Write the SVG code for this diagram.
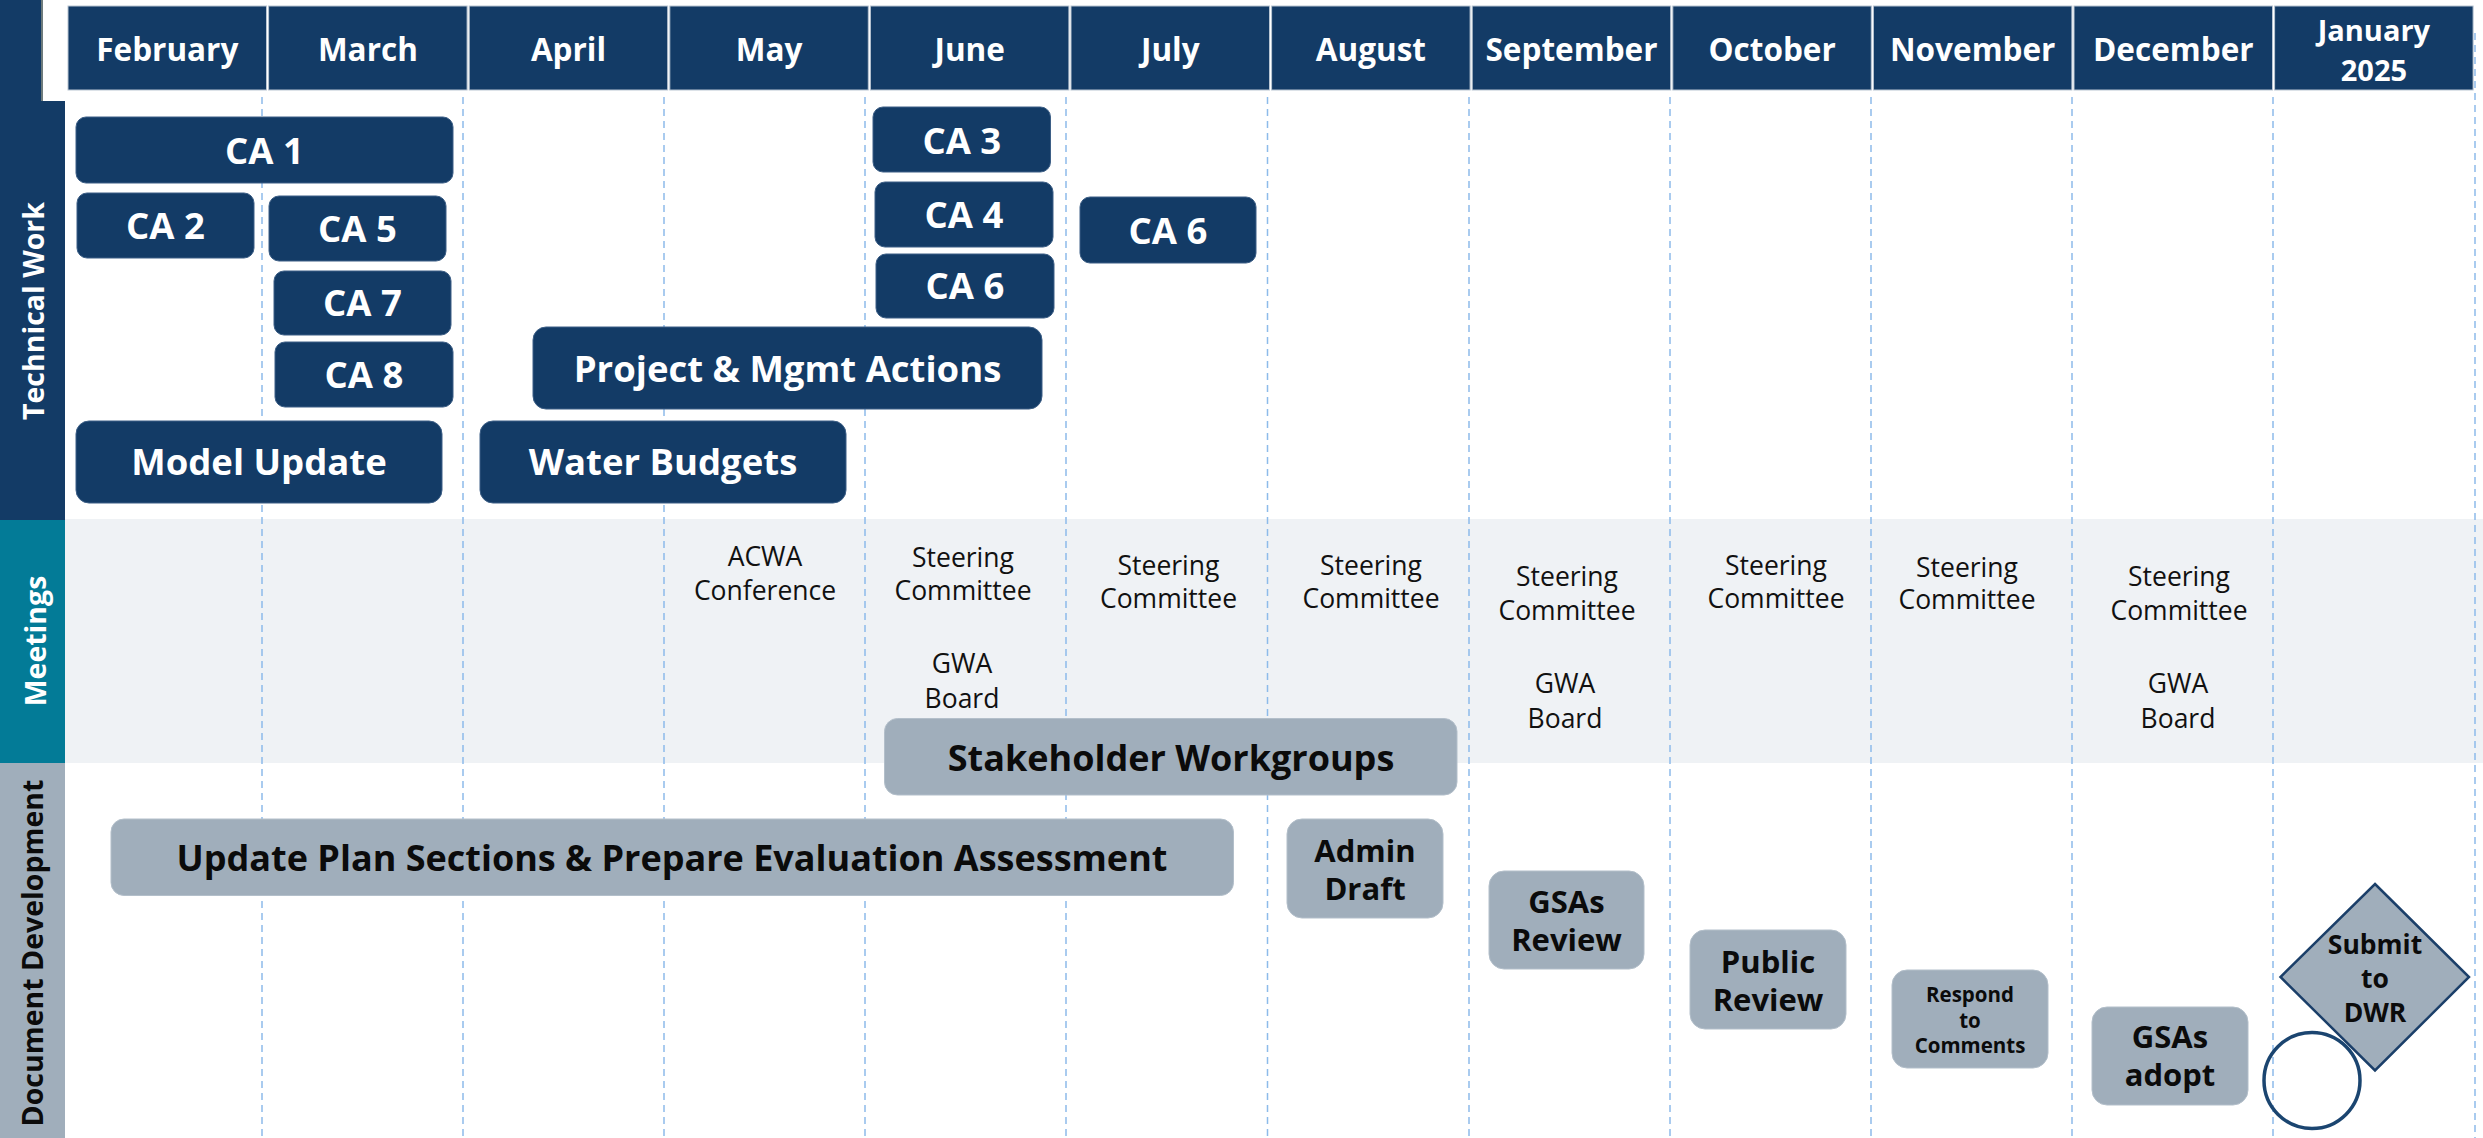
<svg xmlns="http://www.w3.org/2000/svg" width="2483" height="1138" viewBox="0 0 2483 1138">
<defs>
<style>
text{font-family:"Open Sans","Noto Sans","Liberation Sans",sans-serif;text-anchor:middle}
.hdr{fill:#133B66;stroke:#b9c5d2;stroke-width:1}
.ht{font-weight:700;font-size:31.5px;fill:#fff}
.nb{fill:#133B66;stroke:#3d5f86;stroke-width:1}
.nt{font-weight:700;font-size:36.5px;fill:#fff}
.gb{fill:#A0AEBB;stroke:#b3bfca;stroke-width:1}
.gt{font-weight:700;font-size:36px;fill:#0b0b0b}
.gs{font-weight:700;font-size:31px;fill:#0b0b0b}
.mt{font-size:26.5px;fill:#111}
.lane{font-weight:700;font-size:28.5px}
.grid line{stroke:#8DBBEA;stroke-width:1.5;stroke-dasharray:7 5}
</style>
</defs>
<rect width="2483" height="1138" fill="#fff"/>
<!-- lanes -->
<g id="lanes">
<rect x="0" y="0" width="41" height="101" fill="#133B66"/>
<line x1="42" y1="0" x2="42" y2="101" stroke="#6d7b7c" stroke-width="2"/>
<rect x="0" y="101" width="65" height="419" fill="#133B66"/>
<rect x="65" y="519" width="2418" height="244" fill="#EFF2F5"/>
<rect x="0" y="520" width="65" height="243" fill="#037B97"/>
<rect x="0" y="763" width="65" height="375" fill="#A0AEBB"/>
<text class="lane" transform="translate(44,311) rotate(-90)" fill="#fff">Technical Work</text>
<text class="lane" transform="translate(46,641) rotate(-90)" fill="#fff">Meetings</text>
<text class="lane" transform="translate(43,953) rotate(-90)" fill="#0b0b0b">Document Development</text>
</g>
<!-- grid -->
<g class="grid" id="grid">
<line x1="262" y1="97" x2="262" y2="1138"/>
<line x1="463" y1="97" x2="463" y2="1138"/>
<line x1="664" y1="97" x2="664" y2="1138"/>
<line x1="865" y1="97" x2="865" y2="1138"/>
<line x1="1066" y1="97" x2="1066" y2="1138"/>
<line x1="1267.5" y1="97" x2="1267.5" y2="1138"/>
<line x1="1469" y1="97" x2="1469" y2="1138"/>
<line x1="1670" y1="97" x2="1670" y2="1138"/>
<line x1="1871" y1="97" x2="1871" y2="1138"/>
<line x1="2072" y1="97" x2="2072" y2="1138"/>
<line x1="2273" y1="97" x2="2273" y2="1138"/>
<line x1="2475" y1="33" x2="2475" y2="1138"/>
</g>
<g id="connectors"/>
<!-- header -->
<g id="header">
<rect class="hdr" x="68" y="6" width="198.5" height="84"/>
<rect class="hdr" x="268.6" y="6" width="198.5" height="84"/>
<rect class="hdr" x="469.2" y="6" width="198.5" height="84"/>
<rect class="hdr" x="669.8" y="6" width="198.5" height="84"/>
<rect class="hdr" x="870.4" y="6" width="198.5" height="84"/>
<rect class="hdr" x="1071" y="6" width="198.5" height="84"/>
<rect class="hdr" x="1271.6" y="6" width="198.5" height="84"/>
<rect class="hdr" x="1472.2" y="6" width="198.5" height="84"/>
<rect class="hdr" x="1672.8" y="6" width="198.5" height="84"/>
<rect class="hdr" x="1873.4" y="6" width="198.5" height="84"/>
<rect class="hdr" x="2074" y="6" width="198.5" height="84"/>
<rect class="hdr" x="2274.6" y="6" width="198.5" height="84"/>
<text class="ht" x="167.3" y="60.5">February</text>
<text class="ht" x="367.9" y="60.5">March</text>
<text class="ht" x="568.5" y="60.5">April</text>
<text class="ht" x="769.1" y="60.5">May</text>
<text class="ht" x="969.7" y="60.5">June</text>
<text class="ht" x="1170.3" y="60.5">July</text>
<text class="ht" x="1370.9" y="60.5">August</text>
<text class="ht" x="1571.5" y="60.5">September</text>
<text class="ht" x="1772.1" y="60.5">October</text>
<text class="ht" x="1972.7" y="60.5">November</text>
<text class="ht" x="2173.3" y="60.5">December</text>
<text class="ht" style="font-size:29px" x="2373.9" y="41">January</text>
<text class="ht" style="font-size:29px" x="2373.9" y="81">2025</text>
</g>
<!-- technical work nodes -->
<g id="ca1"><rect class="nb" x="76" y="117" width="377" height="66" rx="10"/><text class="nt" x="264.5" y="163.5">CA 1</text></g>
<g id="ca2"><rect class="nb" x="77" y="193" width="177" height="65" rx="10"/><text class="nt" x="165.5" y="238.5">CA 2</text></g>
<g id="ca5"><rect class="nb" x="269" y="196" width="177" height="65" rx="10"/><text class="nt" x="357.5" y="241.5">CA 5</text></g>
<g id="ca7"><rect class="nb" x="274" y="271" width="177" height="64" rx="10"/><text class="nt" x="362.5" y="316">CA 7</text></g>
<g id="ca8"><rect class="nb" x="275" y="342" width="178" height="65" rx="10"/><text class="nt" x="364" y="388">CA 8</text></g>
<g id="ca3"><rect class="nb" x="873" y="107" width="177.5" height="65" rx="10"/><text class="nt" x="961.8" y="153.5">CA 3</text></g>
<g id="ca4"><rect class="nb" x="875" y="182" width="178" height="65" rx="10"/><text class="nt" x="964" y="227.5">CA 4</text></g>
<g id="ca6-june"><rect class="nb" x="876" y="254" width="178" height="64" rx="10"/><text class="nt" x="965" y="299">CA 6</text></g>
<g id="ca6-july"><rect class="nb" x="1080" y="197" width="176" height="66" rx="10"/><text class="nt" x="1168" y="243.5">CA 6</text></g>
<g id="project-mgmt"><rect class="nb" x="533" y="327" width="509" height="82" rx="13"/><text class="nt" x="787.5" y="381.5">Project &amp; Mgmt Actions</text></g>
<g id="model-update"><rect class="nb" x="76" y="421" width="366" height="82" rx="13"/><text class="nt" x="259" y="475">Model Update</text></g>
<g id="water-budgets"><rect class="nb" x="480" y="421" width="366" height="82" rx="13"/><text class="nt" x="663" y="475">Water Budgets</text></g>
<!-- meetings -->
<g id="acwa"><text class="mt" x="765" y="566">ACWA</text><text class="mt" x="765" y="600">Conference</text></g>
<g id="sc-june"><text class="mt" x="963" y="567">Steering</text><text class="mt" x="963" y="600">Committee</text></g>
<g id="gwa-june"><text class="mt" x="962" y="673">GWA</text><text class="mt" x="962" y="708">Board</text></g>
<g id="sc-july"><text class="mt" x="1168.5" y="575">Steering</text><text class="mt" x="1168.5" y="608">Committee</text></g>
<g id="sc-aug"><text class="mt" x="1371" y="575">Steering</text><text class="mt" x="1371" y="608">Committee</text></g>
<g id="sc-sep"><text class="mt" x="1567" y="586">Steering</text><text class="mt" x="1567" y="620">Committee</text></g>
<g id="gwa-sep"><text class="mt" x="1565" y="693">GWA</text><text class="mt" x="1565" y="727.5">Board</text></g>
<g id="sc-oct"><text class="mt" x="1776" y="575">Steering</text><text class="mt" x="1776" y="608">Committee</text></g>
<g id="sc-nov"><text class="mt" x="1967" y="576.5">Steering</text><text class="mt" x="1967" y="609">Committee</text></g>
<g id="sc-dec"><text class="mt" x="2179" y="586">Steering</text><text class="mt" x="2179" y="620">Committee</text></g>
<g id="gwa-dec"><text class="mt" x="2178" y="693">GWA</text><text class="mt" x="2178" y="728">Board</text></g>
<g id="stakeholder"><rect class="gb" x="884.5" y="718.5" width="572.5" height="76.5" rx="13"/><text class="gt" x="1171" y="770.5">Stakeholder Workgroups</text></g>
<!-- document development -->
<g id="update-plan"><rect class="gb" x="111" y="819" width="1122.5" height="76.5" rx="13"/><text class="gt" x="672" y="870.5">Update Plan Sections &amp; Prepare Evaluation Assessment</text></g>
<g id="admin-draft"><rect class="gb" x="1287" y="819" width="156" height="99" rx="15"/><text class="gs" x="1365" y="862">Admin</text><text class="gs" x="1365" y="900">Draft</text></g>
<g id="gsas-review"><rect class="gb" x="1489" y="871" width="155" height="98" rx="15"/><text class="gs" x="1566.5" y="913">GSAs</text><text class="gs" x="1566.5" y="951">Review</text></g>
<g id="public-review"><rect class="gb" x="1690" y="930" width="156" height="99" rx="15"/><text class="gs" x="1768" y="973">Public</text><text class="gs" x="1768" y="1011">Review</text></g>
<g id="respond"><rect class="gb" x="1892" y="970" width="156" height="98" rx="15"/><text class="gs" style="font-size:20.5px" x="1970" y="1002">Respond</text><text class="gs" style="font-size:20.5px" x="1970" y="1027.5">to</text><text class="gs" style="font-size:20.5px" x="1970" y="1053">Comments</text></g>
<g id="gsas-adopt"><rect class="gb" x="2092" y="1007" width="156" height="98" rx="15"/><text class="gs" x="2170" y="1048">GSAs</text><text class="gs" x="2170" y="1086">adopt</text></g>
<g id="submit-dwr"><polygon points="2375,884 2469,977 2375,1070.5 2280.5,977" fill="#A0AEBB" stroke="#1B3F69" stroke-width="2.5"/><text class="gs" style="font-size:26.5px" x="2375" y="954">Submit</text><text class="gs" style="font-size:26.5px" x="2375" y="988">to</text><text class="gs" style="font-size:26.5px" x="2375" y="1021.5">DWR</text></g>
<g id="circle"><circle cx="2312" cy="1080.5" r="48" fill="none" stroke="#1B4570" stroke-width="3.5"/></g>
</svg>
